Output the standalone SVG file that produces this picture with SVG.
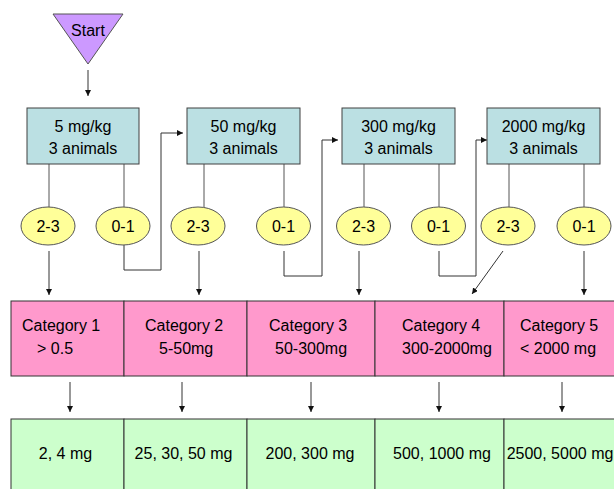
<svg xmlns="http://www.w3.org/2000/svg" width="614" height="489" viewBox="0 0 614 489">
<defs>
<marker id="ah" markerUnits="userSpaceOnUse" markerWidth="7" markerHeight="7" refX="6" refY="3" orient="auto">
<path d="M0,0 L6,3 L0,6 z" fill="#111"/>
</marker>
<style>
text{font-family:"Liberation Sans",Arial,sans-serif;font-size:16px;fill:#000}
.m{text-anchor:middle}
.box{fill:#BBE0E3;stroke:#404040;stroke-width:1}
.ell{fill:#FFFF99;stroke:#555;stroke-width:1}
.cat{fill:#FF99CC;stroke:#333;stroke-width:1}
.res{fill:#CCFFCC;stroke:#333;stroke-width:1}
.ln{fill:none;stroke:#555;stroke-width:1}
.ar{fill:none;stroke:#333;stroke-width:1;marker-end:url(#ah)}
</style>
</defs>
<rect width="614" height="489" fill="#fff"/>

<g id="connectors">
<line class="ar" x1="88" y1="70" x2="88" y2="96"/>
<line class="ln" x1="49" y1="164" x2="49" y2="207"/>
<line class="ln" x1="124" y1="164" x2="124" y2="207"/>
<line class="ln" x1="204" y1="164" x2="204" y2="207"/>
<line class="ln" x1="284" y1="164" x2="284" y2="207"/>
<line class="ln" x1="364" y1="164" x2="364" y2="207"/>
<line class="ln" x1="439" y1="164" x2="439" y2="207"/>
<line class="ln" x1="509" y1="164" x2="509" y2="207"/>
<line class="ln" x1="584" y1="164" x2="584" y2="207"/>
<line class="ar" x1="49" y1="251" x2="49" y2="295"/>
<polyline class="ar" points="124,245 124,270 161,270 161,133 183,133"/>
<line class="ar" x1="199" y1="251" x2="199" y2="295"/>
<polyline class="ar" points="284,251 284,276 322,276 322,140 338,140"/>
<line class="ar" x1="359" y1="251" x2="359" y2="295"/>
<polyline class="ar" points="439,251 439,276 476,276 476,140 487,140"/>
<line class="ar" x1="503" y1="251" x2="472" y2="294"/>
<line class="ar" x1="584" y1="251" x2="584" y2="295"/>
<line class="ar" x1="70" y1="382" x2="70" y2="412"/>
<line class="ar" x1="182" y1="382" x2="182" y2="412"/>
<line class="ar" x1="311" y1="382" x2="311" y2="412"/>
<line class="ar" x1="439" y1="382" x2="439" y2="412"/>
<line class="ar" x1="562" y1="382" x2="562" y2="412"/>
</g>

<g id="start">
<polygon points="53,14 123,14 88,64" fill="#CC99FF" stroke="#555"/>
<text class="m" x="88" y="36">Start</text>
</g>

<g id="dose5">
<rect class="box" x="27" y="108" width="112" height="56"/>
<text class="m" x="83" y="132">5 mg/kg</text>
<text class="m" x="83" y="154">3 animals</text>
</g>
<g id="dose50">
<rect class="box" x="187" y="108" width="113" height="56"/>
<text class="m" x="243.5" y="132">50 mg/kg</text>
<text class="m" x="243.5" y="154">3 animals</text>
</g>
<g id="dose300">
<rect class="box" x="342" y="108" width="113" height="56"/>
<text class="m" x="398.5" y="132">300 mg/kg</text>
<text class="m" x="398.5" y="154">3 animals</text>
</g>
<g id="dose2000">
<rect class="box" x="487" y="108" width="113" height="56"/>
<text class="m" x="543.5" y="132">2000 mg/kg</text>
<text class="m" x="543.5" y="154">3 animals</text>
</g>

<g id="e1"><ellipse class="ell" cx="48" cy="226" rx="27" ry="19"/><text class="m" x="48" y="232">2-3</text></g>
<g id="e2"><ellipse class="ell" cx="123" cy="226" rx="27" ry="19"/><text class="m" x="123" y="232">0-1</text></g>
<g id="e3"><ellipse class="ell" cx="198" cy="226" rx="27" ry="19"/><text class="m" x="198" y="232">2-3</text></g>
<g id="e4"><ellipse class="ell" cx="283.5" cy="226" rx="27" ry="19"/><text class="m" x="283.5" y="232">0-1</text></g>
<g id="e5"><ellipse class="ell" cx="363.5" cy="226" rx="27" ry="19"/><text class="m" x="363.5" y="232">2-3</text></g>
<g id="e6"><ellipse class="ell" cx="438.5" cy="226" rx="27" ry="19"/><text class="m" x="438.5" y="232">0-1</text></g>
<g id="e7"><ellipse class="ell" cx="508" cy="226" rx="27" ry="19"/><text class="m" x="508" y="232">2-3</text></g>
<g id="e8"><ellipse class="ell" cx="584" cy="226" rx="27" ry="19"/><text class="m" x="584" y="232">0-1</text></g>

<g id="cat1"><rect class="cat" x="11" y="301" width="113" height="75"/><text x="22" y="331">Category 1</text><text x="37" y="354">&gt; 0.5</text></g>
<g id="cat2"><rect class="cat" x="124" y="301" width="123" height="75"/><text x="145" y="331">Category 2</text><text x="159" y="354">5-50mg</text></g>
<g id="cat3"><rect class="cat" x="247" y="301" width="128" height="75"/><text x="269" y="331">Category 3</text><text x="275" y="354">50-300mg</text></g>
<g id="cat4"><rect class="cat" x="375" y="301" width="129" height="75"/><text x="402" y="331">Category 4</text><text x="402" y="354">300-2000mg</text></g>
<g id="cat5"><rect class="cat" x="504" y="301" width="120" height="75"/><text x="520" y="331">Category 5</text><text x="520" y="354">&lt; 2000 mg</text></g>

<g id="r1"><rect class="res" x="11" y="419" width="113" height="80"/><text class="m" x="65.5" y="459">2, 4 mg</text></g>
<g id="r2"><rect class="res" x="124" y="419" width="123" height="80"/><text class="m" x="183.5" y="459">25, 30, 50 mg</text></g>
<g id="r3"><rect class="res" x="247" y="419" width="128" height="80"/><text class="m" x="310" y="459">200, 300 mg</text></g>
<g id="r4"><rect class="res" x="375" y="419" width="129" height="80"/><text class="m" x="442" y="459">500, 1000 mg</text></g>
<g id="r5"><rect class="res" x="504" y="419" width="120" height="80"/><text class="m" x="560" y="459">2500, 5000 mg</text></g>
</svg>
